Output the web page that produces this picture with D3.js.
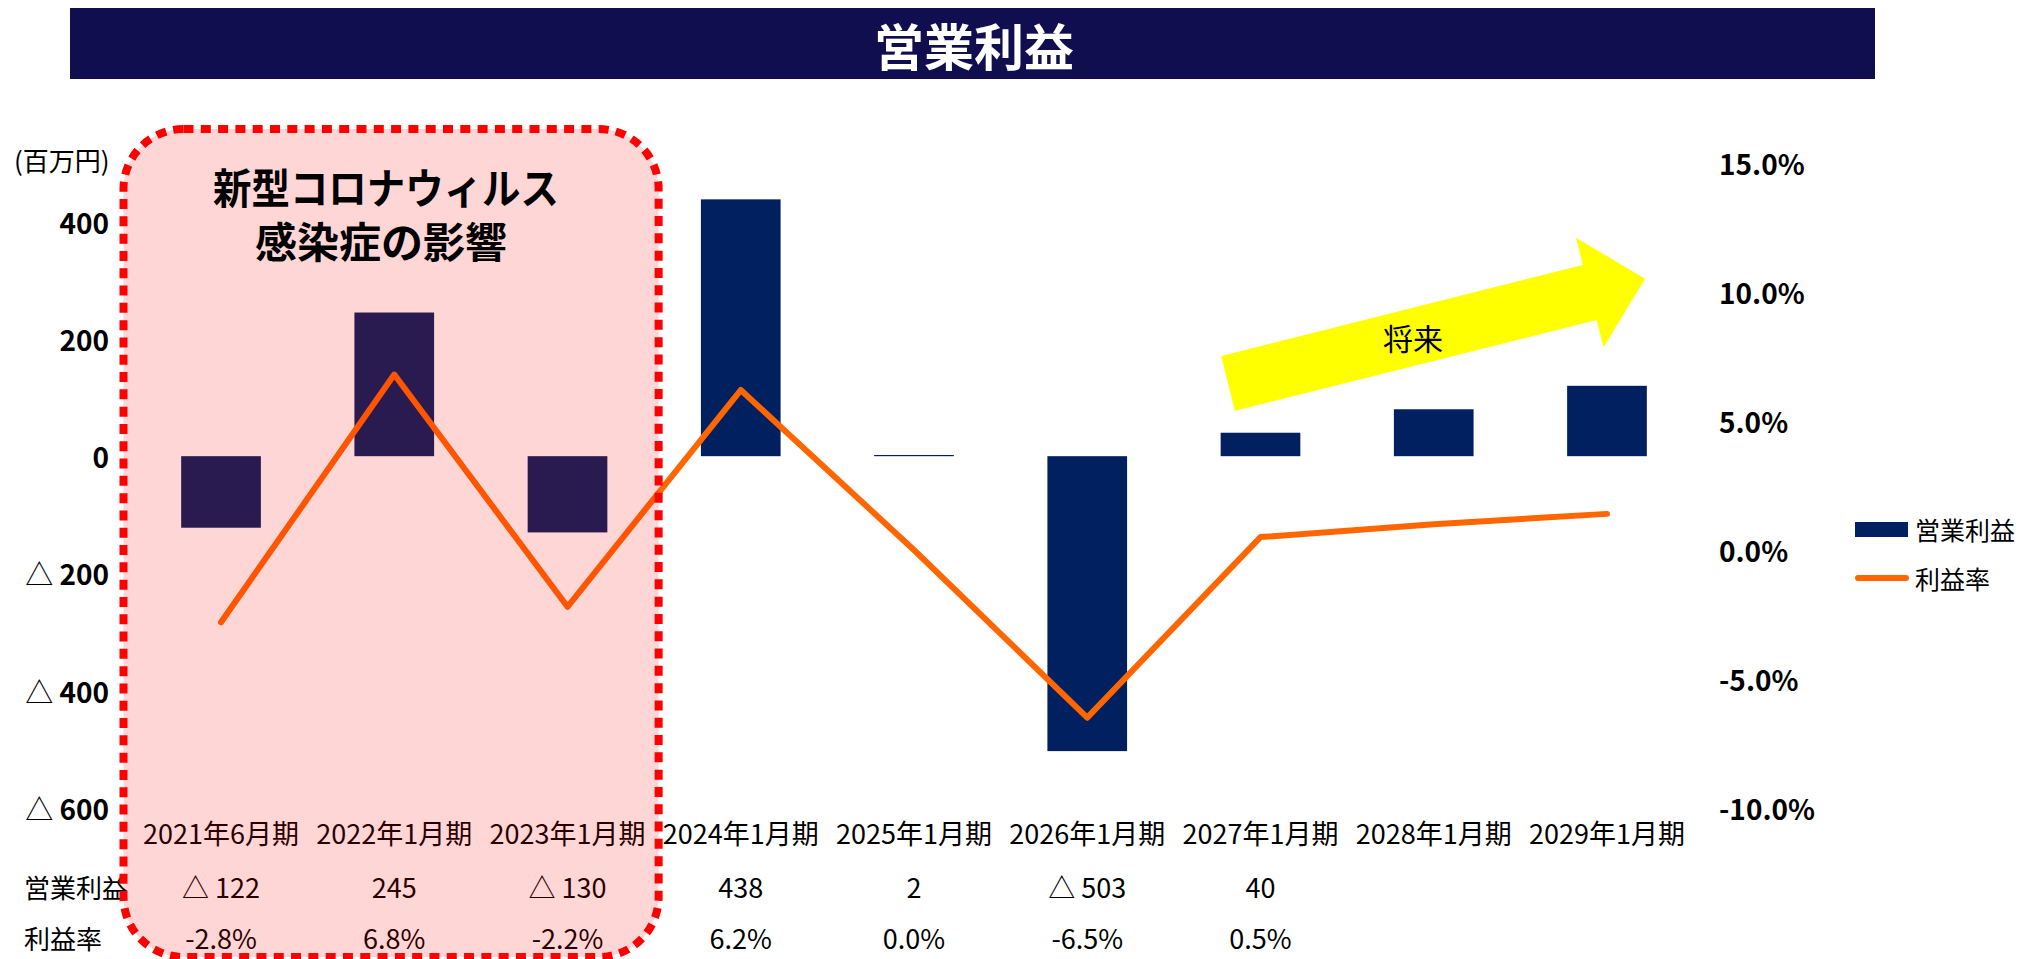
<!DOCTYPE html>
<html lang="ja">
<head>
<meta charset="utf-8">
<script src="https://cdn.jsdelivr.net/npm/d3@7"></script>
<style>
  html, body { margin: 0; padding: 0; background: #fff; }
  svg { display: block; }
  text { font-family: "Noto Sans CJK JP", "Noto Sans", sans-serif; }
</style>
</head>
<body>
<svg id="chart" width="2044" height="959"></svg>
<script>
// ---- data ----
const categories = ["2021年6月期", "2022年1月期", "2023年1月期", "2024年1月期", "2025年1月期",
                    "2026年1月期", "2027年1月期", "2028年1月期", "2029年1月期"];
const operatingProfit = [-122, 245, -130, 438, 2, -503, 40, 80, 120];   // 百万円
const profitRate = [-2.8, 6.8, -2.2, 6.2, 0.0, -6.5, 0.5, 1.0, 1.4];      // %
const tableColumns = 7;                                                   // columns with figures in the table
const leftTicks = [-600, -400, -200, 0, 200, 400];
const rightTicks = [-10, -5, 0, 5, 10, 15];
const covidColumns = 3;

const svg = d3.select("#chart");

// plain hyphen for negatives, one decimal place
const pct = v => d3.format(".1f")(v).replace("\u2212", "-") + "%";
const fmtYen = v => v < 0 ? ["△ ", String(Math.abs(v))] : ["", String(v)];

// ---- title bar ----
svg.append("rect").attr("x", 70).attr("y", 8).attr("width", 1805).attr("height", 71).attr("fill", "#110E50");
svg.append("text").attr("x", 974).attr("y", 44).attr("text-anchor", "middle")
  .attr("dominant-baseline", "central").attr("fill", "#fff")
  .attr("font-size", 50).attr("font-weight", 700).text("営業利益");

// ---- scales ----
const plotTop = 163, plotBottom = 808;
const x = d3.scaleBand().domain(categories).range([134.4, 1693.6]).paddingInner(0.54).paddingOuter(0.27);
const cx = d => x(d) + x.bandwidth() / 2;
const yL = d3.scaleLinear().domain([-600, 500]).range([plotBottom, plotTop]);
const yR = d3.scaleLinear().domain([-10, 15]).range([plotBottom, plotTop]);

// ---- left axis ----
const leftAxis = svg.append("g").attr("font-size", 28);
leftTicks.forEach(v => {
  const [pre, num] = fmtYen(v);
  const t = leftAxis.append("text").attr("x", 109).attr("y", yL(v)).attr("text-anchor", "end")
    .attr("dominant-baseline", "central").attr("fill", "#000");
  if (pre) t.append("tspan").attr("font-weight", 400).text(pre);
  t.append("tspan").attr("font-weight", 700).text(num);
});
svg.append("text").attr("x", 14).attr("y", 159).attr("dominant-baseline", "central")
  .attr("font-size", 26).attr("fill", "#000").text("(百万円)");

// ---- right axis ----
const rightAxis = svg.append("g").attr("font-size", 28).attr("font-weight", 700);
rightTicks.forEach(v => {
  rightAxis.append("text").attr("x", 1719).attr("y", yR(v)).attr("dominant-baseline", "central")
    .attr("fill", "#000").text(pct(v));
});

// ---- bars ----
svg.append("g").selectAll("rect").data(operatingProfit).join("rect")
  .attr("x", (d, i) => x(categories[i]))
  .attr("width", x.bandwidth())
  .attr("y", d => yL(Math.max(0, d)))
  .attr("height", d => Math.max(1, Math.abs(yL(d) - yL(0))))
  .attr("fill", "#002060");

// ---- profit-rate line ----
const line = d3.line().x((d, i) => cx(categories[i])).y(d => yR(d));
svg.append("path").datum(profitRate).attr("d", line)
  .attr("fill", "none").attr("stroke", "#FF6600").attr("stroke-width", 6)
  .attr("stroke-linejoin", "round").attr("stroke-linecap", "round");

// ---- category labels and data table ----
const table = svg.append("g").attr("font-size", 27).attr("fill", "#000");
categories.forEach(c => {
  table.append("text").attr("x", cx(c)).attr("y", 832).attr("text-anchor", "middle")
    .attr("dominant-baseline", "central").text(c);
});
table.append("text").attr("x", 24).attr("y", 886).attr("dominant-baseline", "central")
  .attr("font-size", 26).text("営業利益");
table.append("text").attr("x", 24).attr("y", 937).attr("dominant-baseline", "central")
  .attr("font-size", 26).text("利益率");
operatingProfit.slice(0, tableColumns).forEach((v, i) => {
  const [pre, num] = fmtYen(v);
  table.append("text").attr("x", cx(categories[i])).attr("y", 886).attr("text-anchor", "middle")
    .attr("dominant-baseline", "central").text(pre + num);
});
profitRate.slice(0, tableColumns).forEach((v, i) => {
  table.append("text").attr("x", cx(categories[i])).attr("y", 937).attr("text-anchor", "middle")
    .attr("dominant-baseline", "central").text(pct(v));
});

// ---- legend ----
const legend = svg.append("g").attr("font-size", 25).attr("fill", "#000");
legend.append("rect").attr("x", 1855).attr("y", 522).attr("width", 53).attr("height", 15).attr("fill", "#002060");
legend.append("text").attr("x", 1915).attr("y", 529).attr("dominant-baseline", "central").text("営業利益");
legend.append("line").attr("x1", 1858).attr("x2", 1906).attr("y1", 578).attr("y2", 578)
  .attr("stroke", "#FF6600").attr("stroke-width", 6).attr("stroke-linecap", "round");
legend.append("text").attr("x", 1915).attr("y", 578).attr("dominant-baseline", "central").text("利益率");

// ---- "将来" arrow ----
const arrow = svg.append("g").attr("transform", "translate(1228,383.4) rotate(-14.1)");
arrow.append("path")
  .attr("d", "M0,-28.3 L373,-28.3 L373,-56.5 L430,0 L373,56.5 L373,28.3 L0,28.3 Z")
  .attr("fill", "#FFFF00");
svg.append("text").attr("x", 1413).attr("y", 337).attr("text-anchor", "middle")
  .attr("dominant-baseline", "central").attr("font-size", 30).attr("fill", "#000").text("将来");

// ---- COVID-19 period highlight ----
const boxLeft = 123.5;
const boxRight = x(categories[covidColumns - 1]) + x.bandwidth() / 2 + x.step() / 2 + 4.5;
svg.append("rect").attr("x", boxLeft).attr("y", 129).attr("width", boxRight - boxLeft).attr("height", 828)
  .attr("rx", 60).attr("ry", 60)
  .attr("fill", "rgba(255,0,0,0.16)")
  .attr("stroke", "#FF0000").attr("stroke-width", 8).attr("stroke-dasharray", "10 7.3");

// two-line caption inside the highlighted period (alphabetic baselines)
const note = svg.append("text").attr("font-size", 42).attr("font-weight", 700).attr("fill", "#000")
  .attr("text-anchor", "middle");
note.append("tspan").attr("x", 386).attr("y", 204)
  .attr("textLength", 346).attr("lengthAdjust", "spacingAndGlyphs").text("新型コロナウィルス");
note.append("tspan").attr("x", 381).attr("y", 258)
  .text("感染症の影響");
</script>
</body>
</html>
